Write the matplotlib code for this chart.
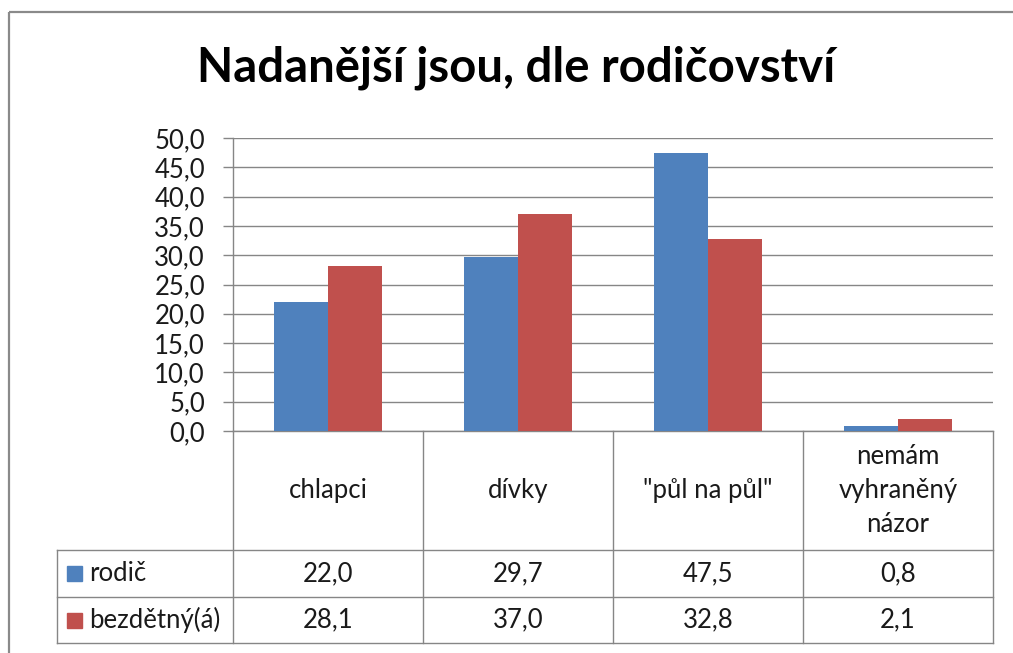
import matplotlib
matplotlib.use("Agg")
import matplotlib.pyplot as plt
import matplotlib.transforms as mtransforms
from matplotlib.lines import Line2D
from matplotlib.patches import Rectangle
import numpy as np

# ---------------- data ----------------
title = "Nadanější jsou, dle rodičovství"
categories = ["chlapci", "dívky", "\"půl na půl\"", "nemám\nvyhraněný\nnázor"]
series_names = ["rodič", "bezdětný(á)"]
rodic = [22.0, 29.7, 47.5, 0.8]
bezdetny = [28.1, 37.0, 32.8, 2.1]
yticks = [0, 5, 10, 15, 20, 25, 30, 35, 40, 45, 50]

colors = ["#4F81BD", "#C0504D"]
grid_c = "#868686"
text_c = "#1a1a1a"
FONT = ["Lato", "DejaVu Sans"]
FS = 18.5

W, H = 1013, 653
fig = plt.figure(figsize=(W / 100, H / 100), dpi=100)


def fx(px):
    return px / W


def fy(py):
    return 1 - py / H


# outer chart frame (only top and left edges are visible)
fig.add_artist(Line2D([fx(9), fx(1013)], [fy(12), fy(12)], transform=fig.transFigure,
                      color="#8a8a8a", lw=1.6, solid_capstyle="butt"))
fig.add_artist(Line2D([fx(9), fx(9)], [fy(12), fy(653)], transform=fig.transFigure,
                      color="#8a8a8a", lw=1.6, solid_capstyle="butt"))

ax = fig.add_axes([fx(233), fy(431), fx(993) - fx(233), fy(138) - fy(431)])
x = np.arange(len(categories))
w = 0.2857
ax.bar(x - w / 2, rodic, w, color=colors[0], zorder=3)
ax.bar(x + w / 2, bezdetny, w, color=colors[1], zorder=3)
ax.set_xlim(-0.5, len(categories) - 0.5)
ax.set_ylim(0, 50)
ax.set_yticks(yticks)
ax.set_yticklabels([f"{v:.1f}".replace(".", ",") for v in yticks],
                   fontfamily=FONT, fontsize=FS, color=text_c)
ax.set_xticks([])
ax.yaxis.grid(True, color=grid_c, lw=1)
ax.set_axisbelow(True)
for s in ["top", "right"]:
    ax.spines[s].set_visible(False)
for s in ["left", "bottom"]:
    ax.spines[s].set_color(grid_c)
    ax.spines[s].set_linewidth(1)
ax.tick_params(axis="y", direction="out", length=7.2, width=1, color=grid_c, pad=13)

# ---------------- data table ----------------
blend = mtransforms.blended_transform_factory(ax.transData, fig.transFigure)
bounds = np.arange(len(categories) + 1) - 0.5
y_hdr_top, y_r1, y_r2, y_bot = 431, 550, 597, 643
x_tab_left = 57

# vertical column lines
for b in bounds:
    fig.add_artist(Line2D([b, b], [fy(y_hdr_top), fy(y_bot)], transform=blend,
                          color=grid_c, lw=1))
# left border of legend column
fig.add_artist(Line2D([fx(x_tab_left), fx(x_tab_left)], [fy(y_r1), fy(y_bot)],
                      transform=fig.transFigure, color=grid_c, lw=1))
# horizontal lines
x_right_fig = blend.transform((bounds[-1], 0))
x_right_fig = fig.transFigure.inverted().transform(x_right_fig)[0]
for yy in [y_r1, y_r2, y_bot]:
    fig.add_artist(Line2D([fx(x_tab_left), x_right_fig], [fy(yy), fy(yy)],
                          transform=fig.transFigure, color=grid_c, lw=1))

# header labels
for i, c in enumerate(categories):
    fig.text(i, fy((y_hdr_top + y_r1) / 2), c, transform=blend, ha="center",
             va="center", fontfamily=FONT, fontsize=FS, color=text_c,
             linespacing=1.45, multialignment="center")

# value rows
rows = [rodic, bezdetny]
row_centers = [(y_r1 + y_r2) / 2, (y_r2 + y_bot) / 2]
for r, (vals, yc) in enumerate(zip(rows, row_centers)):
    for i, v in enumerate(vals):
        fig.text(i, fy(yc), f"{v:.1f}".replace(".", ","), transform=blend,
                 ha="center", va="center", fontfamily=FONT, fontsize=FS, color=text_c)
    fig.patches.append(Rectangle((fx(67), fy(yc + 7.5)), fx(82) - fx(67), fy(yc - 7.5) - fy(yc + 7.5),
                                 transform=fig.transFigure, color=colors[r]))
    fig.text(fx(89), fy(yc), series_names[r], ha="left", va="center",
             fontfamily=FONT, fontsize=FS, color=text_c)

# title
fig.text(fx(516), fy(81), title, ha="center", va="baseline", fontfamily=FONT,
         fontsize=34, fontweight="bold", color="black")

fig.savefig("out.png", dpi=100)
